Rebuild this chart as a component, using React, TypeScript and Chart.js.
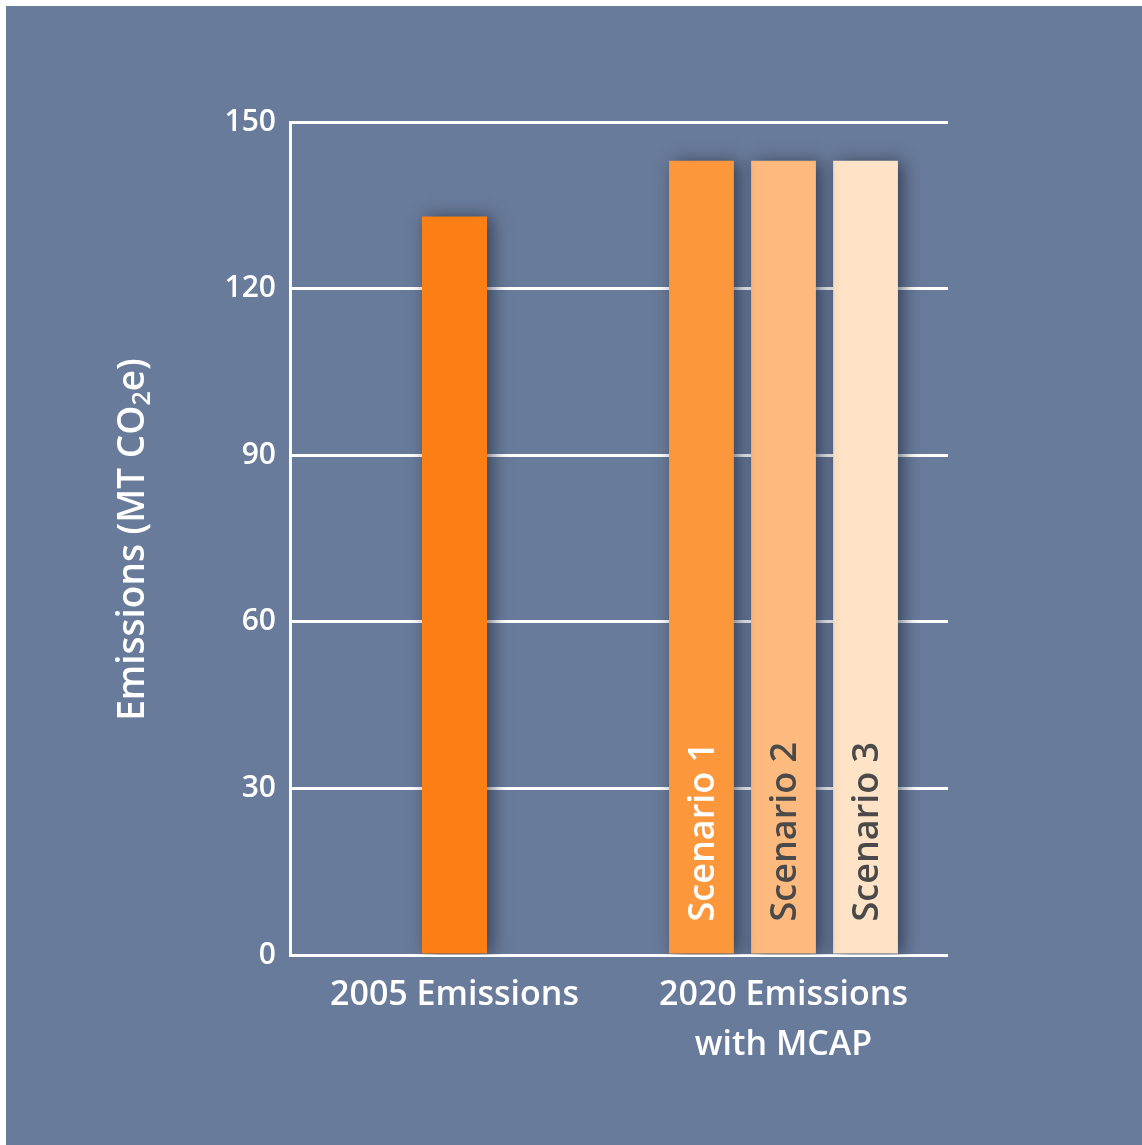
import React, { useEffect, useRef } from "react";
import { Chart, registerables } from "chart.js";

Chart.register(...registerables);

const categories: (string | string[])[] = ["2005 Emissions", ["2020 Emissions", "with MCAP"]];
const emissions2005: (number | null)[] = [133, null];
const scenario1: (number | null)[] = [null, 143];
const scenario2: (number | null)[] = [null, 143];
const scenario3: (number | null)[] = [null, 143];
const scenarioLabels = ["Scenario 1", "Scenario 2", "Scenario 3"];
const scenarioTextColors = ["#ffffff", "#4a4a4a", "#4a4a4a"];
const yTitleParts = ["Emissions (MT CO", "2", "e)"];
const yMin = 0;
const yMax = 150;
const yStep = 30;

const BG = "#697b9a";
const FONT = '"Open Sans", "Noto Sans", sans-serif';

export default function App() {
  const ref = useRef<HTMLCanvasElement | null>(null);

  useEffect(() => {
    const canvas = ref.current;
    if (!canvas) return;

    const shadowPlugin = {
      id: "barShadow",
      beforeDatasetsDraw(chart: any) {
        const ctx = chart.ctx;
        ctx.save();
        ctx.shadowColor = "rgba(25, 35, 55, 0.65)";
        ctx.shadowBlur = 16;
        ctx.shadowOffsetX = 5;
        ctx.shadowOffsetY = 1;
      },
      afterDatasetsDraw(chart: any) {
        chart.ctx.restore();
      },
    };

    const labelsPlugin = {
      id: "extraLabels",
      afterDraw(chart: any) {
        const ctx = chart.ctx;
        for (let i = 1; i <= 3; i++) {
          const meta = chart.getDatasetMeta(i);
          const bar: any = meta.data[1];
          if (!bar) continue;
          ctx.save();
          ctx.translate(bar.x, bar.base - 32);
          ctx.rotate(-Math.PI / 2);
          ctx.font = `600 36px ${FONT}`;
          ctx.fillStyle = scenarioTextColors[i - 1];
          ctx.textAlign = "left";
          ctx.textBaseline = "middle";
          ctx.fillText(scenarioLabels[i - 1], 0, 2);
          ctx.restore();
        }
        const area = chart.chartArea;
        const cy = (area.top + area.bottom) / 2 + 1;
        const cx = 127;
        ctx.save();
        ctx.translate(cx, cy);
        ctx.rotate(-Math.PI / 2);
        ctx.fillStyle = "#ffffff";
        ctx.textBaseline = "middle";
        ctx.textAlign = "left";
        const big = `600 37px ${FONT}`;
        const small = `600 25px ${FONT}`;
        ctx.font = big;
        const w0 = ctx.measureText(yTitleParts[0]).width;
        const w2 = ctx.measureText(yTitleParts[2]).width;
        ctx.font = small;
        const w1 = ctx.measureText(yTitleParts[1]).width;
        const total = w0 + w1 + w2;
        let x = -total / 2;
        ctx.font = big;
        ctx.fillText(yTitleParts[0], x, 0);
        x += w0;
        ctx.font = small;
        ctx.fillText(yTitleParts[1], x, 10);
        x += w1;
        ctx.font = big;
        ctx.fillText(yTitleParts[2], x, 0);
        ctx.restore();
      },
    };

    const chart = new Chart(canvas, {
      type: "bar",
      data: {
        labels: categories as any,
        datasets: [
          { label: "2005", data: emissions2005, backgroundColor: "#fb7f15" },
          { label: scenarioLabels[0], data: scenario1, backgroundColor: "#fd973b" },
          { label: scenarioLabels[1], data: scenario2, backgroundColor: "#fdba7f" },
          { label: scenarioLabels[2], data: scenario3, backgroundColor: "#fee3c7" },
        ],
      },
      options: {
        responsive: false,
        animation: false,
        devicePixelRatio: 1,
        skipNull: true,
        categoryPercentage: 0.748,
        barPercentage: 0.79,
        maxBarThickness: 65,
        borderWidth: 0,
        layout: { padding: { top: 116, right: 194, left: 0, bottom: 0 } },
        plugins: {
          legend: { display: false },
          tooltip: { enabled: false },
          title: { display: false },
        },
        scales: {
          x: {
            grid: { display: false, drawTicks: false },
            border: { display: false },
            ticks: {
              color: "#ffffff",
              font: { family: FONT, size: 34, weight: "600", lineHeight: 1.45 },
              padding: 16,
              maxRotation: 0,
              autoSkip: false,
            },
            afterFit(scale: any) {
              scale.height = 190;
            },
          },
          y: {
            min: yMin,
            max: yMax,
            grid: { color: "#ffffff", lineWidth: 3, drawTicks: false },
            border: { display: true, color: "#ffffff", width: 3 },
            ticks: {
              stepSize: yStep,
              color: "#ffffff",
              font: { family: FONT, size: 30, weight: "600" },
              padding: 14,
            },
            afterFit(scale: any) {
              scale.width = 284;
            },
          },
        },
      } as any,
      plugins: [shadowPlugin, labelsPlugin],
    });

    return () => chart.destroy();
  }, []);

  return (
    <div
      style={{
        position: "absolute",
        left: 6,
        top: 6,
        width: 1136,
        height: 1139,
        background: BG,
        overflow: "hidden",
      }}
    >
      <canvas ref={ref} width={1136} height={1139} style={{ display: "block" }} />
    </div>
  );
}
